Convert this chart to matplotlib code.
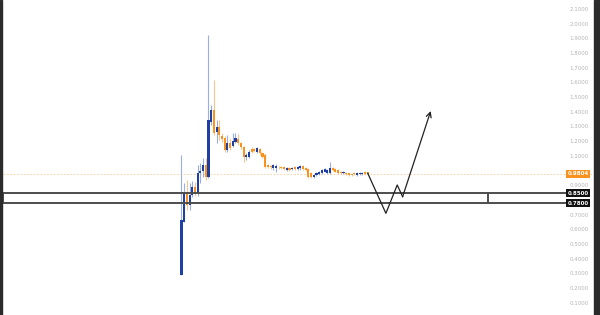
import matplotlib.pyplot as plt
import numpy as np

# candle data (price), one entry per bar
opens = [0.293, 0.655, 0.859, 0.769, 0.837, 0.893, 0.844, 0.984, 1.000, 1.040,
         0.961, 1.335, 1.415, 1.267, 1.300, 1.238, 1.222, 1.143, 1.188, 1.170,
         1.200, 1.216, 1.190, 1.165, 1.093, 1.097, 1.148, 1.148, 1.131, 1.148,
         1.120, 1.109, 1.040, 1.034, 1.018, 1.020, 1.029, 1.029,
         1.025, 1.007, 1.018, 1.014, 1.029, 1.012, 1.018, 1.034, 1.022, 1.012,
         0.984, 0.961, 0.973, 0.980, 0.988, 0.995, 0.988, 0.988, 1.018, 1.012,
         1.007, 0.995, 0.984, 0.988, 0.984, 0.980, 0.984, 0.973, 0.978, 0.980,
         0.995, 0.991]
closes = [0.667, 0.859, 0.769, 0.837, 0.893, 0.844, 0.984, 1.002, 1.040, 0.961,
          1.347, 1.415, 1.256, 1.300, 1.245, 1.215, 1.143, 1.188, 1.156, 1.206,
          1.222, 1.188, 1.160, 1.097, 1.109, 1.131, 1.131, 1.136, 1.154, 1.120,
          1.097, 1.029, 1.029, 1.024, 1.040, 1.034, 1.024, 1.020,
          1.012, 1.022, 1.007, 1.022, 1.014, 1.029, 1.034, 1.016, 1.007, 0.961,
          0.961, 0.973, 0.984, 0.995, 1.007, 1.012, 1.007, 1.018, 1.007, 0.995,
          0.988, 0.984, 0.995, 0.980, 0.973, 0.973, 0.977, 0.984, 0.984, 0.988,
          0.980, 0.9804]
highs = [1.109, 0.918, 0.939, 0.918, 0.932, 0.925, 1.040, 1.054, 1.088, 1.088,
         1.925, 1.450, 1.620, 1.347, 1.347, 1.260, 1.240, 1.245, 1.220, 1.260,
         1.260, 1.250, 1.200, 1.170, 1.120, 1.140, 1.160, 1.158, 1.165, 1.158,
         1.130, 1.120, 1.048, 1.040, 1.048, 1.045, 1.036, 1.036,
         1.032, 1.030, 1.025, 1.030, 1.036, 1.036, 1.042, 1.040, 1.028, 1.020,
         0.990, 0.980, 0.990, 1.000, 1.012, 1.018, 1.012, 1.063, 1.025, 1.018,
         1.012, 1.000, 1.000, 0.994, 0.988, 0.980, 0.990, 0.990, 0.990, 0.994,
         1.000, 0.996]
lows = [0.290, 0.650, 0.735, 0.735, 0.820, 0.830, 0.830, 0.918, 0.960, 0.939,
        0.955, 1.310, 1.245, 1.190, 1.210, 1.200, 1.130, 1.130, 1.140, 1.160,
        1.190, 1.180, 1.150, 1.063, 1.075, 1.090, 1.120, 1.128, 1.125, 1.110,
        1.090, 1.020, 1.020, 1.016, 1.010, 0.995, 1.016, 1.012,
        1.005, 1.000, 1.000, 1.008, 1.008, 1.005, 1.010, 1.010, 1.000, 0.955,
        0.955, 0.955, 0.967, 0.975, 0.982, 0.990, 0.982, 0.982, 1.000, 0.990,
        0.982, 0.978, 0.978, 0.974, 0.966, 0.968, 0.970, 0.966, 0.974, 0.975,
        0.975, 0.975]

last_price = 0.9804
zone_top = 0.85
zone_bottom = 0.78
zone_start, zone_end = -66.1, 113.6          # bar index
path_x = [69, 75.7, 79.9, 81.9, 92.3]        # bar index
path_y = [0.984, 0.712, 0.905, 0.825, 1.408]
scale_ticks = [0.1, 0.2, 0.3, 0.4, 0.5, 0.6, 0.7, 0.9,
               1.1, 1.2, 1.3, 1.4, 1.5, 1.6, 1.7, 1.8, 1.9, 2.0, 2.1]

UP = '#1f3ea6'
DOWN = '#f7931e'
UP_WICK = '#9aaee0'
DOWN_WICK = '#f9c58d'
ZONE = '#4d4d4d'

fig = plt.figure(figsize=(6, 3.15), dpi=100)
ax = fig.add_axes([0, 0, 1, 1])
ax.set_xlim(-67.22, 155.0)
ax.set_ylim(0.0204, 2.1633)
ax.axis('off')

o = np.array(opens)
c = np.array(closes)
x = np.arange(len(o))
up = c >= o
colors = np.where(up, UP, DOWN)
wick_colors = np.where(up, UP_WICK, DOWN_WICK)

ax.vlines(x, lows, highs, colors=wick_colors, linewidth=0.8, zorder=2)
bottoms = np.minimum(o, c)
heights = np.maximum(np.abs(c - o), 0.005)
ax.bar(x, heights, bottom=bottoms, width=0.8, color=colors, linewidth=0, zorder=3)

# last price line
ax.axhline(last_price, color=DOWN, alpha=0.45, linestyle=(0, (2, 2)), linewidth=0.6, zorder=1)

# zone
ax.axhline(zone_top, xmax=0.952, color=ZONE, linewidth=1.4, zorder=4)
ax.axhline(zone_bottom, xmax=0.952, color=ZONE, linewidth=1.4, zorder=4)
ax.plot([zone_start, zone_start], [zone_bottom, zone_top], color=ZONE, linewidth=1.4, zorder=4)
ax.plot([zone_end, zone_end], [zone_bottom, zone_top], color=ZONE, linewidth=1.4, zorder=4)

# projected path
ax.plot(path_x[:-1], path_y[:-1], color='#222222', linewidth=0.9, zorder=5)
ax.annotate('', xy=(path_x[-1], path_y[-1]), xytext=(path_x[-2], path_y[-2]),
            arrowprops=dict(arrowstyle='->', color='#222222', lw=0.9,
                            mutation_scale=9, shrinkA=0, shrinkB=0), zorder=5)

# price scale
tr = ax.get_yaxis_transform()
for t in scale_ticks:
    ax.text(0.981, t, f'{t:.4f}', transform=tr, ha='right', va='center',
            fontsize=4, color='#b5b5b5')
for val, bg in [(last_price, DOWN), (zone_top, '#111111'), (zone_bottom, '#111111')]:
    ax.text(0.981, val, f'{val:.4f}', transform=tr, ha='right', va='center',
            fontsize=4, color='white', fontweight='bold',
            bbox=dict(boxstyle='square,pad=0.25', fc=bg, ec='none'), zorder=6)

# dark frame strips
fig.patches.append(plt.Rectangle((0.99, 0), 0.01, 1, transform=fig.transFigure,
                                 color='#2b2b2b', zorder=10))
fig.patches.append(plt.Rectangle((0, 0), 0.004, 1, transform=fig.transFigure,
                                 color='#2b2b2b', zorder=10))

fig.savefig('out.png', dpi=100)
